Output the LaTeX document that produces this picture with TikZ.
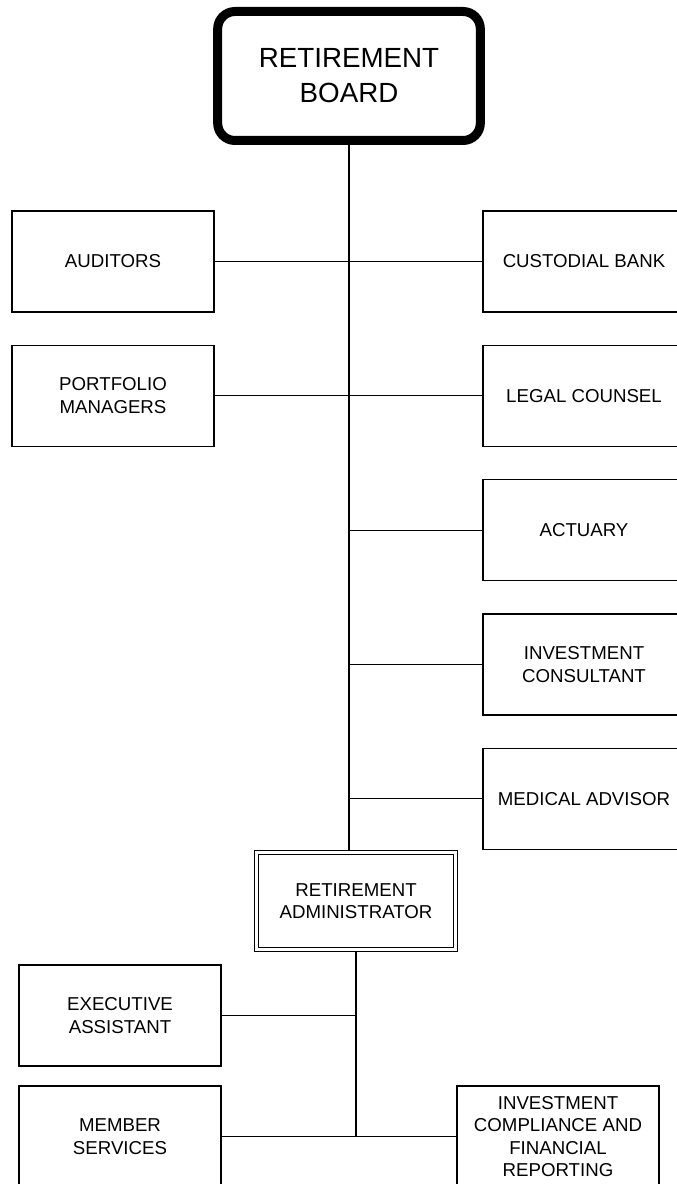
\documentclass[tikz,border=0pt]{standalone}
\usepackage{fontspec}
\setmainfont{Liberation Sans}
\usetikzlibrary{positioning,calc}
\tikzset{
    board/.style={rectangle, rounded corners=13pt, draw=black, line width=6.75pt, minimum width=197pt, minimum height=96.75pt, inner sep=0pt, align=center, font=\fontsize{20.8}{26.25}\selectfont},
    unit/.style={rectangle, draw=black, line width=1pt, minimum width=151.5pt, minimum height=75.75pt, inner sep=0pt, align=center, font=\fontsize{14}{16.9}\selectfont},
    admin_unit/.style={unit, double, line width=0.9pt, double distance=2.1pt, outer sep=1.95pt, minimum width=149pt, minimum height=72.7pt},
    spine/.style={line width=1.5pt},
    link/.style={line width=0.9pt},
}
\begin{document}
\begin{tikzpicture}[x=0.75pt,y=-0.75pt]
        \useasboundingbox (0,0) rectangle (677,1184);

        % Board on top
        \node[board] (board) at (349,76) {RETIREMENT\\BOARD};

        % Advisors on the right
        \node[unit] (custodial) at (584,261.5) {CUSTODIAL BANK};
        \node[unit,below=24pt of custodial] (legal) {LEGAL COUNSEL};
        \node[unit,below=24pt of legal] (actuary) {ACTUARY};
        \node[unit,below=24pt of actuary] (consultant) {INVESTMENT\\CONSULTANT};
        \node[unit,below=24pt of consultant] (medical) {MEDICAL ADVISOR};

        % Advisors on the left
        \node[unit] (auditors) at (113,261.5) {AUDITORS};
        \node[unit,below=24pt of auditors] (portfolio) {PORTFOLIO\\MANAGERS};

        % Administrator and staff
        \node[admin_unit] (admin) at (356,901) {RETIREMENT\\ADMINISTRATOR};
        \node[unit] (assistant) at (120,1015.5) {EXECUTIVE\\ASSISTANT};
        \node[unit,below=14pt of assistant] (members) {MEMBER\\SERVICES};
        \node[unit] (compliance) at (558,1136.5) {INVESTMENT\\COMPLIANCE AND\\FINANCIAL\\REPORTING};

        % Vertical lines
        \draw[spine] (board.south) -- (board.south |- admin.north);
        \draw[spine] (admin.south) -- (admin.south |- members.east);

        % Board connectors
        \draw[link] (auditors.east) -- (custodial.west);
        \draw[link] (portfolio.east) -- (legal.west);
        \draw[link] (actuary.west) -- (actuary.west -| board.south);
        \draw[link] (consultant.west) -- (consultant.west -| board.south);
        \draw[link] (medical.west) -- (medical.west -| board.south);

        % Staff connectors
        \draw[link] (assistant.east) -- (assistant.east -| admin.south);
        \draw[link] (members.east) -- (members.east -| compliance.west);
    \end{tikzpicture}
\end{document}
